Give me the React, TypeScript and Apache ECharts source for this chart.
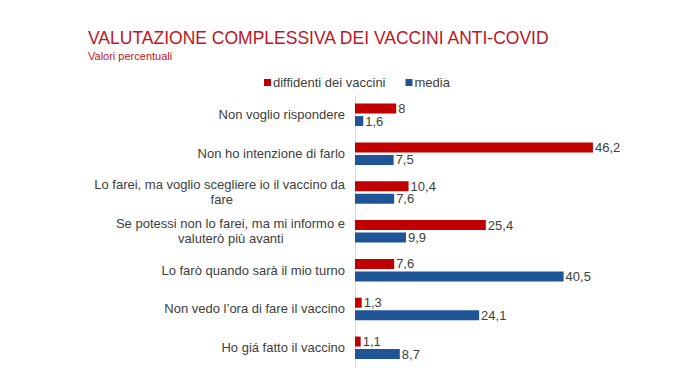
import React, { useEffect, useRef } from "react";
import * as echarts from "echarts";

const categories = [
  "Non voglio rispondere",
  "Non ho intenzione di farlo",
  "Lo farei, ma voglio scegliere io il vaccino da\nfare",
  "Se potessi non lo farei, ma mi informo e\nvaluterò più avanti",
  "Lo farò quando sarà il mio turno",
  "Non vedo l’ora di fare il vaccino",
  "Ho giá fatto il vaccino",
];
const diffidenti = [8, 46.2, 10.4, 25.4, 7.6, 1.3, 1.1];
const media = [1.6, 7.5, 7.6, 9.9, 40.5, 24.1, 8.7];
const seriesNames = ["diffidenti dei vaccini", "media"];

const FONT = "'Liberation Sans', Arial, sans-serif";
const TEXT = "#404040";
const LABEL_SIZE = 13;
const NBSP = "\u00a0";

function measure(s: string): number {
  const c = document.createElement("canvas").getContext("2d");
  if (!c) return s.length * 6.5;
  c.font = LABEL_SIZE + "px " + FONT;
  return c.measureText(s).width;
}

export default function App() {
  const ref = useRef<HTMLDivElement>(null);
  useEffect(() => {
    if (!ref.current) return;
    const chart = echarts.init(ref.current, null, { renderer: "svg" });
    const fmt = (p: any) => String(p.value).replace(".", ",");
    const labelText: Record<string, string> = {};
    const spaceW = measure(NBSP) || 3.6;
    categories.forEach((cat) => {
      if (cat.indexOf("\n") < 0) return;
      const lines = cat.split("\n");
      const widths = lines.map(measure);
      const maxW = Math.max(...widths);
      labelText[cat] = lines
        .map((l, j) => {
          const n = Math.floor((maxW - widths[j]) / 2 / spaceW);
          if (n < 1) return l;
          const pad = NBSP.repeat(n);
          return pad + l + pad;
        })
        .join("\n");
    });
    chart.setOption({
      animation: false,
      backgroundColor: "#ffffff",
      textStyle: { fontFamily: FONT },
      title: {
        text: "VALUTAZIONE COMPLESSIVA DEI VACCINI ANTI-COVID",
        subtext: "Valori percentuali",
        left: 83,
        top: 24,
        itemGap: 3,
        textStyle: { color: "#c0141e", fontSize: 17.5, fontWeight: "normal", fontFamily: FONT },
        subtextStyle: { color: "#c0141e", fontSize: 11, fontFamily: FONT },
      },
      legend: {
        left: 259,
        top: 71,
        itemWidth: 7,
        itemHeight: 7,
        itemGap: 20,
        icon: "rect",
        textStyle: { color: TEXT, fontSize: 13, fontFamily: FONT, padding: [0, 0, 0, -3] },
        data: seriesNames,
      },
      grid: { left: 355, top: 95.4, bottom: 23.8, right: 87.5, containLabel: false },
      xAxis: {
        type: "value",
        min: 0,
        max: 50,
        show: false,
      },
      yAxis: {
        type: "category",
        data: categories,
        inverse: true,
        axisTick: { show: false },
        axisLine: { show: true, lineStyle: { color: "#d9d9d9", width: 1 } },
        axisLabel: {
          margin: 10,
          color: TEXT,
          fontSize: LABEL_SIZE,
          fontFamily: FONT,
          lineHeight: 15,
          formatter: (v: string) => labelText[v] || v,
        },
      },
      series: [
        {
          name: seriesNames[0],
          type: "bar",
          data: diffidenti,
          barWidth: 10,
          barGap: "25%",
          itemStyle: { color: "#c00000" },
          label: { show: true, position: "right", distance: 2, color: TEXT, fontSize: 13, fontFamily: FONT, formatter: fmt },
        },
        {
          name: seriesNames[1],
          type: "bar",
          data: media,
          barWidth: 10,
          barGap: "25%",
          itemStyle: { color: "#1f5596" },
          label: { show: true, position: "right", distance: 2, color: TEXT, fontSize: 13, fontFamily: FONT, formatter: fmt },
        },
      ],
    });
    return () => chart.dispose();
  }, []);
  return (
    <div
      ref={ref}
      style={{ position: "fixed", left: 0, top: 0, width: 700, height: 391 }}
    />
  );
}
